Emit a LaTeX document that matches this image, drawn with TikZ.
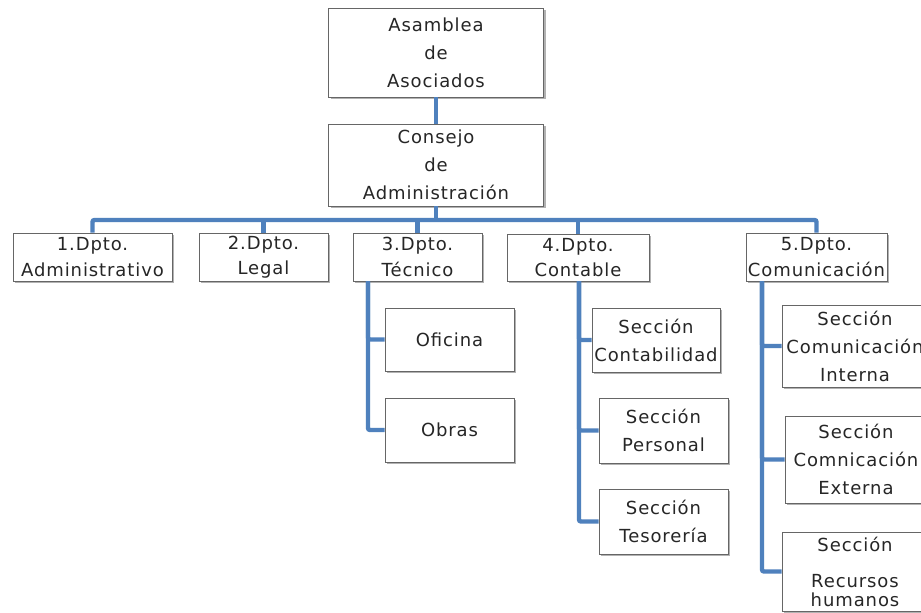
\documentclass[tikz,border=0pt]{standalone}
\usepackage{fontspec}
\setmainfont{DejaVu Sans}[LetterSpace=5]
\usetikzlibrary{shadows}
\definecolor{linkblue}{RGB}{79,129,189}

\tikzset{
	box/.style={draw=black!60, fill=white, line width=0.6pt, align=center, inner sep=0pt,
		text=black!85, font=\fontsize{13.5}{21}\selectfont,
		drop shadow={shadow xshift=1.8pt, shadow yshift=-1.8pt, opacity=0.3, fill=black}},
	dptbox/.style={box, font=\fontsize{13.5}{19}\selectfont},
	sz/.style 2 args={minimum width=#1*0.75pt, minimum height=#2*0.75pt},
	link/.style={draw=linkblue, line width=3.3pt, rounded corners=1.5pt}
}

\begin{document}
\begin{tikzpicture}[x=0.75pt,y=-0.75pt]
	\clip (0,0) rectangle (921,613);
	\fill[white] (0,0) rectangle (921,613);

	% top
	\node[box, sz={215}{89}] (asam) at (436,52.5) {Asamblea\\de\\Asociados};
	\node[box, sz={215}{82}] (cons) at (436,165) {Consejo\\de\\Administraci\'on};

	% departamentos
	\node[dptbox, sz={159}{48}] (d1) at (92.5,257) {1.Dpto.\\Administrativo};
	\node[dptbox, sz={129}{48}] (d2) at (263.5,257) {2.Dpto.\\Legal};
	\node[dptbox, sz={129}{48}] (d3) at (417.5,257) {3.Dpto.\\T\'ecnico};
	\node[dptbox, sz={142}{47}] (d4) at (578,257.5) {4.Dpto.\\Contable};
	\node[dptbox, sz={141}{48}] (d5) at (816.5,257) {5.Dpto.\\Comunicaci\'on};

	% secciones
	\node[box, sz={129}{63}] (ofi) at (449.5,339.5) {Oficina};
	\node[box, sz={129}{64}] (obr) at (449.5,430) {Obras};
	\node[box, sz={128}{64}] (cont) at (656,340) {Secci\'on\\Contabilidad};
	\node[box, sz={129}{65}] (pers) at (663.5,430.5) {Secci\'on\\Personal};
	\node[box, sz={129}{65}] (teso) at (663.5,521.5) {Secci\'on\\Tesorer\'ia};
	\node[box, sz={146}{82}] (cint) at (855,346) {Secci\'on\\Comunicaci\'on\\Interna};
	\node[box, sz={142}{87}] (cext) at (856,459.5) {Secci\'on\\Comnicaci\'on\\Externa};
	\node[box, sz={146}{79}, font=\fontsize{13.5}{14.3}\selectfont] (recu) at (855,571.5)
		{Secci\'on\\[12.7pt]Recursos\\humanos};

	\coordinate (bus) at (436,220);
	\coordinate (t3) at (368,281);
	\coordinate (t4) at (579,281);
	\coordinate (t5) at (762,281);

	% lineas
	\draw[link] (asam) -- (cons);
	\draw[link] (cons) -- (bus);
	\draw[link] (d1.north) |- (bus) -| (d5.north);
	\foreach \d in {d2,d3,d4}{
		\draw[link] (bus -| \d.north) -- (\d.north);
	}
	\draw[link] (t3) |- (ofi.west);
	\draw[link] (t3) |- (obr.west);
	\draw[link] (t4) |- (cont.west);
	\draw[link] (t4) |- (pers.west);
	\draw[link] (t4) |- (teso.west);
	\draw[link] (t5) |- (cint.west);
	\draw[link] (t5) |- (cext.west);
	\draw[link] (t5) |- (recu.west);
\end{tikzpicture}
\end{document}
